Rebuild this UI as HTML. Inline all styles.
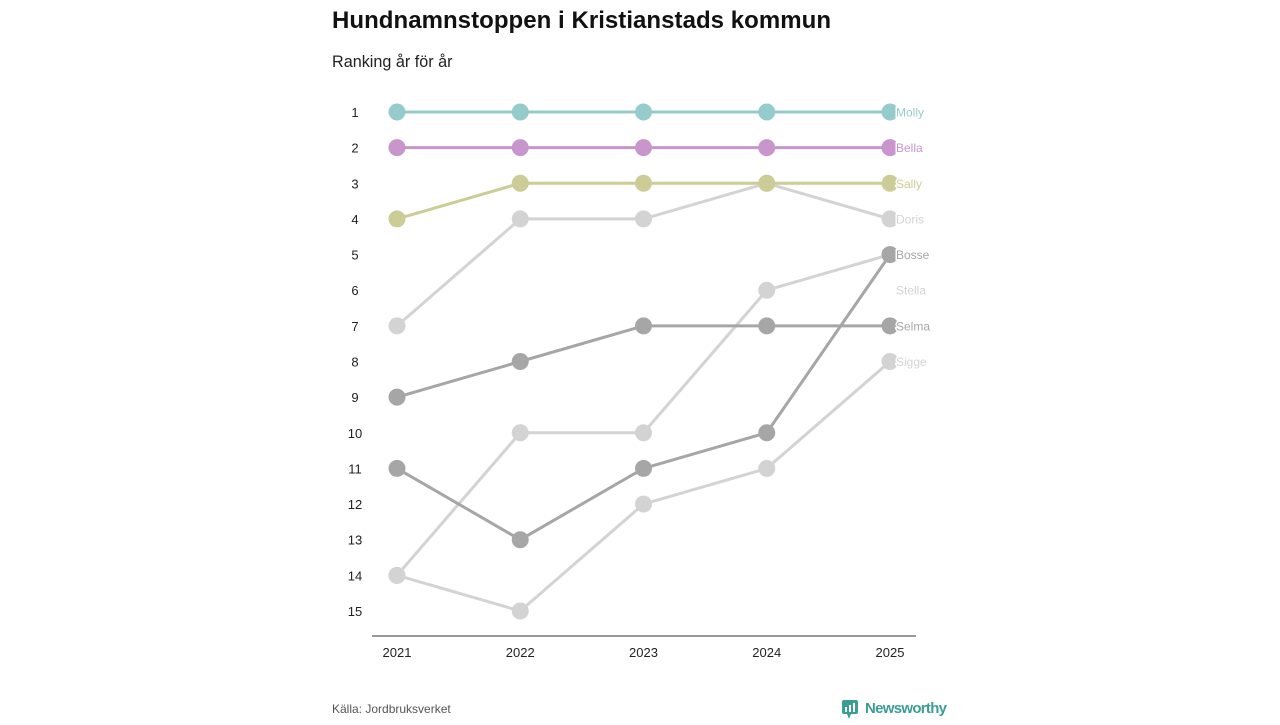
<!DOCTYPE html>
<html><head><meta charset="utf-8"><style>
body{margin:0;background:#fff;width:1280px;height:720px;overflow:hidden;font-family:"Liberation Sans","DejaVu Sans",sans-serif}
</style></head><body>
<svg id="chart" width="1280" height="720" xmlns="http://www.w3.org/2000/svg">
<text x="332" y="28" font-size="24" font-weight="bold" fill="#111" textLength="499">Hundnamnstoppen i Kristianstads kommun</text>
<text x="332" y="67" font-size="16.2" fill="#222">Ranking år för år</text>
<text x="332" y="713" font-size="12" fill="#555">Källa: Jordbruksverket</text>
<g>
<rect x="842" y="700" width="16" height="14" rx="2" fill="#3a9e95"/>
<polygon points="847,714 851,714 849,719" fill="#3a9e95"/>
<rect x="845" y="707" width="2" height="5" fill="#fff"/><rect x="849" y="705" width="2" height="7" fill="#fff"/><rect x="853" y="703" width="2" height="9" fill="#fff"/>
<text x="865" y="713" font-size="15" font-weight="bold" fill="#3a9e95" textLength="82">Newsworthy</text>
</g>
<g id="plot"></g>
</svg>
<script>
const years=["2021","2022","2023","2024","2025"];
const rankTicks=[1,2,3,4,5,6,7,8,9,10,11,12,13,14,15];
const names=["Sigge","Stella","Doris","Bosse","Selma","Sally","Bella","Molly"];
const colors=["#d3d3d3","#d3d3d3","#d3d3d3","#a6a6a6","#a6a6a6","#cccc96","#c896cc","#96cbcb"];
const Sigge=[14,15,12,11,8];
const Stella=[14,10,10,6,5];
const Doris=[7,4,4,3,4];
const Bosse=[11,13,11,10,5];
const Selma=[9,8,7,7,7];
const Sally=[4,3,3,3,3];
const Bella=[2,2,2,2,2];
const Molly=[1,1,1,1,1];
const labelRanks=[8,6,4,5,7,3,2,1];
const series=[Sigge,Stella,Doris,Bosse,Selma,Sally,Bella,Molly];
const NS="http://www.w3.org/2000/svg";
const x=i=>397+i*(890-397)/(years.length-1);
const y=r=>112+(r-1)*(611-112)/14;
const g=document.getElementById('plot');
function mk(t,a){const e=document.createElementNS(NS,t);for(const k in a)e.setAttribute(k,a[k]);g.appendChild(e);return e;}
const ax=mk('line',{x1:372,x2:916,y1:636,y2:636,stroke:'#333','stroke-width':1});


years.forEach((yr,i)=>{
 const l=mk('text',{x:x(i),y:657,'font-size':13,'text-anchor':'middle',fill:'#222'});l.textContent=yr;
 
 
});
rankTicks.forEach(r=>{
 const l=mk('text',{x:355,y:y(r)+5,'font-size':13,'text-anchor':'middle',fill:'#222'});l.textContent=r;
 
 
});
series.forEach((s,si)=>{
 const pts=s.map((r,i)=>x(i)+','+y(r)).join(' ');
 const pl=mk('polyline',{points:pts,fill:'none',stroke:colors[si],'stroke-width':3});
 
 
 s.forEach((r,i)=>{
  const c=mk('circle',{cx:x(i),cy:y(r),r:8.5,fill:colors[si]});
  
  
 });
});
series.forEach((s,si)=>{
 const l=mk('text',{x:896,y:y(labelRanks[si])+4.5,'font-size':12,fill:colors[si],stroke:'#fff','stroke-width':3,'paint-order':'stroke'});
 l.textContent=names[si];
 
 
});
</script>
</body></html>
